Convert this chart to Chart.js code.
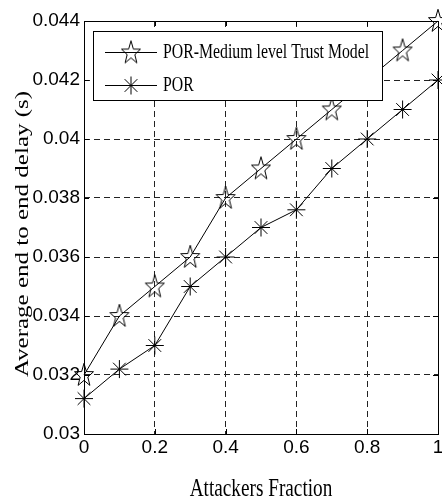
<!DOCTYPE html>
<html>
<head>
<meta charset="utf-8">
<script src="https://cdn.jsdelivr.net/npm/chart.js@4/dist/chart.umd.min.js"></script>
<style>
  html, body { margin: 0; padding: 0; background: #fff; }
  #wrap { width: 442px; height: 498px; }
</style>
</head>
<body>
<div id="wrap"><canvas id="delayChart" width="442" height="498"></canvas></div>
<script>
// data
const fractions = [0, 0.1, 0.2, 0.3, 0.4, 0.5, 0.6, 0.7, 0.8, 0.9, 1];
const porTrustDelay = [0.032, 0.034, 0.035, 0.036, 0.038, 0.039, 0.040, 0.041, 0.042, 0.043, 0.044];
const porDelay = [0.0312, 0.0322, 0.033, 0.035, 0.036, 0.037, 0.0376, 0.039, 0.040, 0.041, 0.042];
const seriesNames = ["POR-Medium level Trust Model", "POR"];
const xTitle = "Attackers Fraction";
const yTitle = "Average end to end delay (s)";

const SQUEEZE = 0.78; // the figure text is narrow, like the original was shrunk sideways
const serif = '"Liberation Serif", "Times New Roman", serif';

// hollow pentagram marker, as in the matlab figure
function makePentagram() {
  const c = document.createElement("canvas");
  c.width = 22; c.height = 26;
  const g = c.getContext("2d");
  const R = 12.2, r = R * 0.4;
  g.translate(11, 13.5);
  g.scale(0.82, 1);
  g.beginPath();
  for (let i = 0; i < 10; i++) {
    const rad = i % 2 === 0 ? R : r;
    const a = -Math.PI / 2 + i * Math.PI / 5;
    const px = rad * Math.cos(a), py = rad * Math.sin(a);
    if (i === 0) g.moveTo(px, py); else g.lineTo(px, py);
  }
  g.closePath();
  g.setTransform(1, 0, 0, 1, 0, 0);
  g.strokeStyle = "#000";
  g.lineWidth = 1;
  g.stroke();
  return c;
}
const pentagram = makePentagram();

// box, inward ticks, legend and axis titles
const figurePlugin = {
  id: "figure",
  beforeDatasetsDraw(chart) {
    const { ctx, chartArea: a, scales } = chart;
    ctx.save();
    ctx.strokeStyle = "#000";
    ctx.lineWidth = 1;
    ctx.setLineDash([]);
    ctx.strokeRect(Math.round(a.left) + 0.5, Math.round(a.top) + 0.5,
      Math.round(a.right - a.left), Math.round(a.bottom - a.top));
    ctx.beginPath();
    scales.x.ticks.forEach(t => {
      const px = Math.round(scales.x.getPixelForValue(t.value)) + 0.5;
      ctx.moveTo(px, a.bottom); ctx.lineTo(px, a.bottom - 5);
      ctx.moveTo(px, a.top); ctx.lineTo(px, a.top + 5);
    });
    scales.y.ticks.forEach(t => {
      const py = Math.round(scales.y.getPixelForValue(t.value)) + 0.5;
      ctx.moveTo(a.left, py); ctx.lineTo(a.left + 5, py);
      ctx.moveTo(a.right, py); ctx.lineTo(a.right - 5, py);
    });
    ctx.stroke();
    ctx.restore();
  },
  afterDraw(chart) {
    const ctx = chart.ctx;
    ctx.save();
    ctx.fillStyle = "#000";

    // x title
    ctx.font = "25px " + serif;
    ctx.textAlign = "center";
    ctx.textBaseline = "alphabetic";
    ctx.save();
    ctx.translate(261, 496);
    ctx.scale(0.77, 1);
    ctx.fillText(xTitle, 0, 0);
    ctx.restore();

    // y title
    ctx.save();
    ctx.translate(28, 234);
    ctx.scale(SQUEEZE, 1);
    ctx.rotate(-Math.PI / 2);
    ctx.fillText(yTitle, 0, 0);
    ctx.restore();

    // legend
    const box = { x: 93.5, y: 31.5, w: 289, h: 69 };
    ctx.fillStyle = "#fff";
    ctx.fillRect(box.x, box.y, box.w, box.h);
    ctx.strokeStyle = "#000";
    ctx.lineWidth = 1;
    ctx.strokeRect(box.x, box.y, box.w, box.h);
    chart.data.datasets.forEach((ds, i) => {
      const cy = 52 + i * 33;
      ctx.beginPath();
      ctx.moveTo(105, cy + 0.5);
      ctx.lineTo(157, cy + 0.5);
      ctx.strokeStyle = "#000";
      ctx.stroke();
      Chart.helpers.drawPoint(ctx, {
        pointStyle: ds.pointStyle, radius: ds.pointRadius, rotation: 0,
        borderWidth: 1
      }, 131, cy + 0.5);
      ctx.save();
      ctx.fillStyle = "#000";
      ctx.font = "20px " + serif;
      ctx.textAlign = "left";
      ctx.textBaseline = "alphabetic";
      ctx.translate(163, cy + 6);
      ctx.scale(0.79, 1);
      ctx.fillText(ds.label, 0, 0);
      ctx.restore();
    });
    ctx.restore();
  }
};

const tickFont = { family: '"Liberation Sans", Arial, sans-serif', size: 19 };

new Chart(document.getElementById("delayChart").getContext("2d"), {
  type: "line",
  data: {
    datasets: [
      {
        label: seriesNames[0],
        data: fractions.map((f, i) => ({ x: f, y: porTrustDelay[i] })),
        borderColor: "#000",
        backgroundColor: "#000",
        borderWidth: 1,
        pointStyle: pentagram,
        pointRadius: 11,
        pointBorderColor: "#000",
        pointBorderWidth: 1,
        fill: false,
        tension: 0,
        clip: false
      },
      {
        label: seriesNames[1],
        data: fractions.map((f, i) => ({ x: f, y: porDelay[i] })),
        borderColor: "#000",
        backgroundColor: "#000",
        borderWidth: 1,
        pointStyle: "star",
        pointRadius: 9,
        pointBorderColor: "#000",
        pointBorderWidth: 1,
        fill: false,
        tension: 0,
        clip: false
      }
    ]
  },
  options: {
    responsive: false,
    animation: false,
    events: [],
    layout: { autoPadding: false, padding: { top: 21, right: 4, left: 0, bottom: 0 } },
    plugins: {
      legend: { display: false },
      tooltip: { enabled: false }
    },
    scales: {
      x: {
        type: "linear",
        min: 0,
        max: 1,
        afterFit: s => { s.height = 64; s.paddingRight = 0; s.paddingLeft = 0; },
        ticks: {
          stepSize: 0.2,
          color: "#000",
          font: tickFont,
          padding: 2,
          maxRotation: 0,
          callback: v => String(+v.toFixed(2))
        },
        grid: { color: "#222", lineWidth: 1, drawTicks: false },
        border: { display: false, dash: [6, 4] }
      },
      y: {
        min: 0.03,
        max: 0.044,
        afterFit: s => { s.width = 84; },
        ticks: {
          stepSize: 0.002,
          color: "#000",
          font: tickFont,
          padding: 4,
          callback: v => String(+v.toFixed(4))
        },
        grid: { color: "#222", lineWidth: 1, drawTicks: false },
        border: { display: false, dash: [6, 4] }
      }
    }
  },
  plugins: [figurePlugin]
});
</script>
</body>
</html>
